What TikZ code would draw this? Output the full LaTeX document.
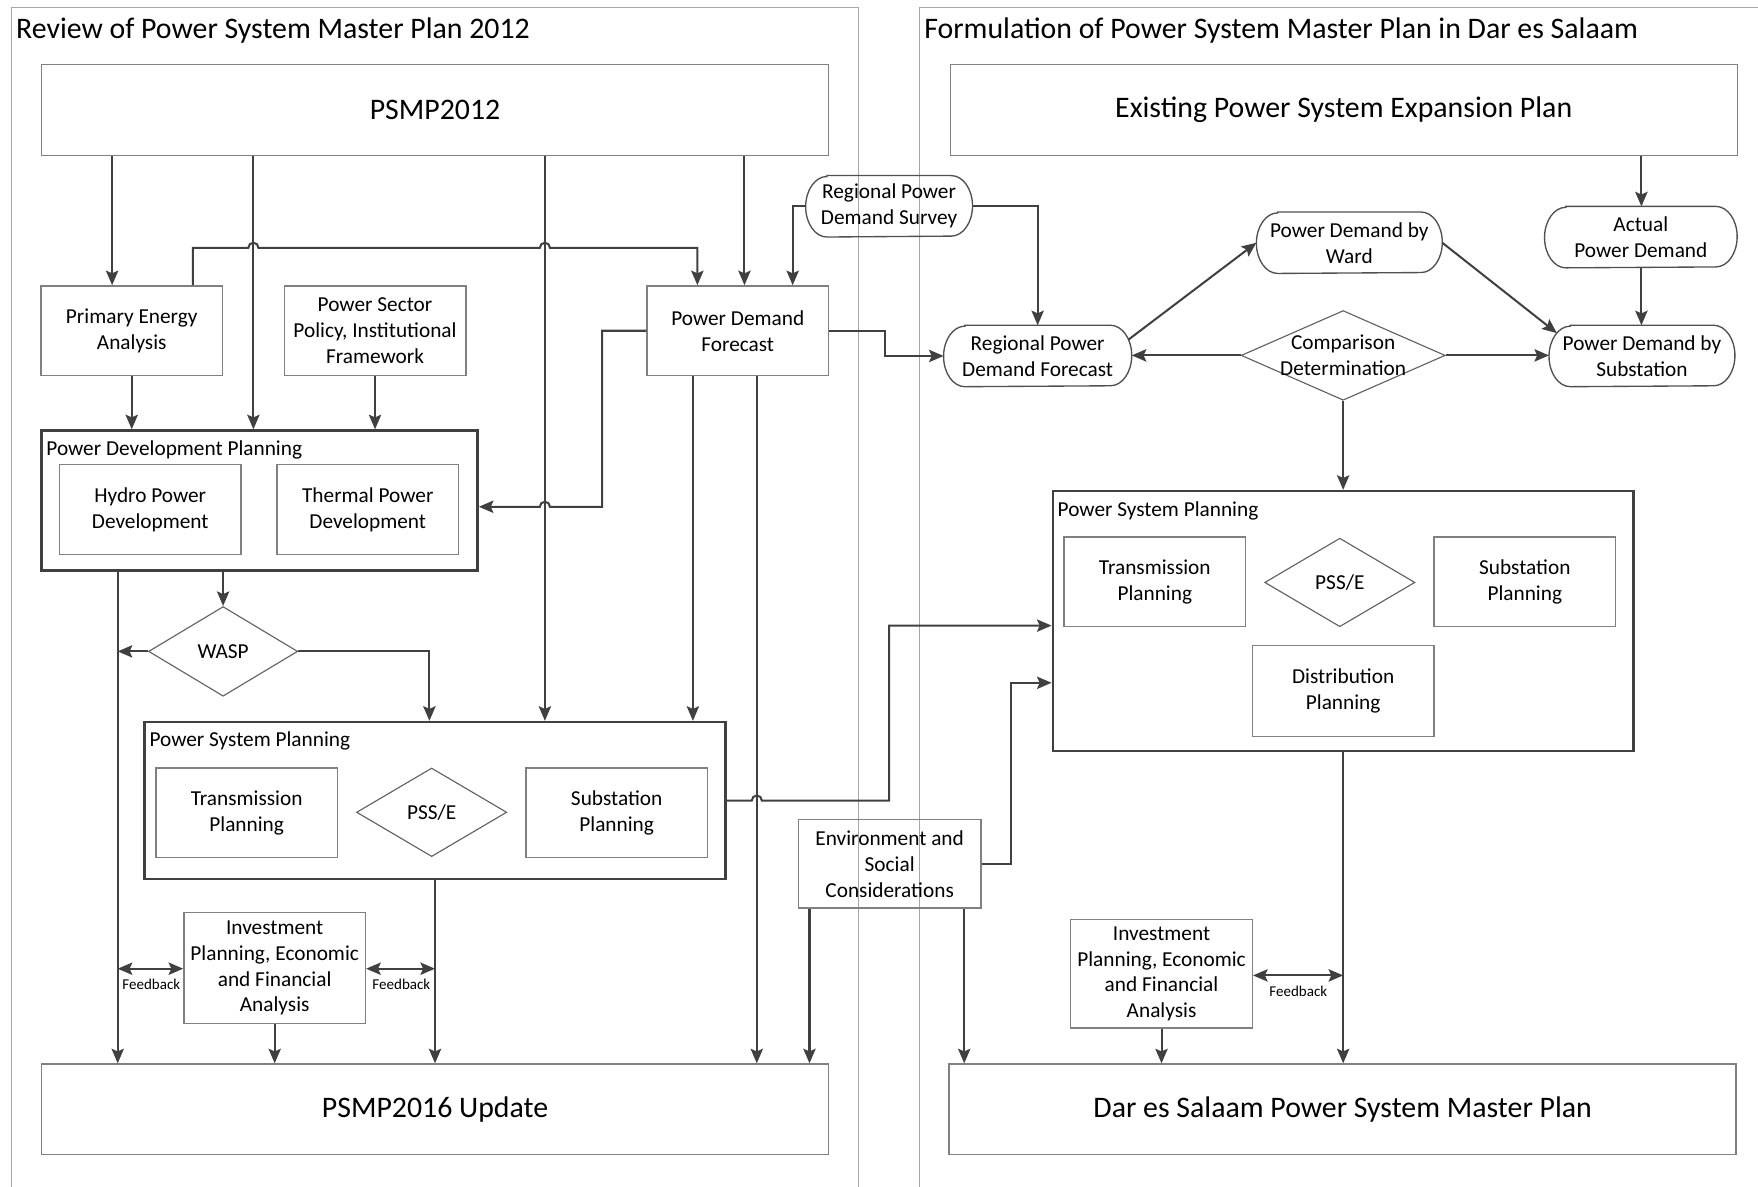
\documentclass[tikz,border=0pt]{standalone}
\usepackage{fontspec}
\setmainfont{Carlito}
\usetikzlibrary{shapes.geometric,arrows.meta,calc}

\definecolor{connc}{HTML}{404040}
\definecolor{boxc}{HTML}{808080}
\definecolor{framec}{HTML}{A6A6A6}
\definecolor{contc}{HTML}{404040}
\definecolor{diac}{HTML}{606060}
\definecolor{stadc}{HTML}{505050}

\newcommand\bigtxt{\fontsize{13.3}{16}\selectfont}
\newcommand\midtxt{\fontsize{9.5}{11.6}\selectfont}
\newcommand\invtxt{\fontsize{9.5}{11.4}\selectfont}
\newcommand\smalltxt{\fontsize{6.7}{8}\selectfont}

\begin{document}
\begin{tikzpicture}[x=0.5pt,y=-0.5pt,
  box/.style={draw=boxc, line width=0.6pt, rectangle, inner sep=0pt, align=center, font=\midtxt},
  sq/.style={minimum width=81pt, minimum height=40pt},
  big/.style={minimum width=351pt, minimum height=40.5pt, font=\bigtxt},
  cont/.style={draw=contc, line width=1.1pt, rectangle, inner sep=0pt},
  dia/.style={draw=diac, line width=0.5pt, diamond, inner sep=0pt},
  stad/.style={rectangle, inner sep=0pt, minimum height=27pt, align=center, font=\midtxt},
  stadln/.style={draw=stadc, line width=0.6pt},
  lbl/.style={inner sep=0pt, align=center, font=\midtxt},
  fb/.style={inner sep=0pt, font=\smalltxt},
  ttl/.style={inner sep=0pt, anchor=west, font=\bigtxt},
  frame/.style={draw=framec, line width=0.5pt},
  conn/.style={draw=connc, line width=0.9pt},
  arr/.style={conn, -{Stealth[length=6.5pt,width=5.5pt,inset=1.2pt]}},
  darr/.style={conn, {Stealth[length=6.5pt,width=5.5pt,inset=1.2pt]}-{Stealth[length=6.5pt,width=5.5pt,inset=1.2pt]}},
  jump/.style={radius=2.25pt}
]
\useasboundingbox (0,0) rectangle (1568,1058);

% ---------- panel frames and titles ----------
\draw[frame] (10,1070) -- (10,7) -- (766,7) -- (766,1070);
\draw[frame] (820,1070) -- (820,7) -- (1580,7);
\node[ttl] (ttlleft) at (14,27.5) {Review of Power System Master Plan 2012};
\node[ttl] (ttlright) at (824,27.5) {Formulation of Power System Master Plan in Dar es Salaam};

% ---------- left panel ----------
\node[box,big] (psmp12) at (388,98) {PSMP2012};
\node[box,sq] (pea) at (117.5,295) {Primary Energy\\Analysis};
\node[box,sq] (psp) at (334.5,295) {Power Sector\\Policy, Institutional\\Framework};
\node[box,sq] (pdf) at (658,295) {Power Demand\\Forecast};

\node[cont, minimum width=194.5pt, minimum height=62.5pt] (pdp) at (231.5,446.5) {};
\node[lbl, anchor=west] (pdplbl) at (41,401) {Power Development Planning};
\node[box,sq] (hydro) at (134,454.5) {Hydro Power\\Development};
\node[box,sq] (thermal) at (328,454.5) {Thermal Power\\Development};

\node[dia, minimum width=66.5pt, minimum height=40pt,
      label={[lbl]center:WASP}] (wasp) at (199,581) {};

\node[cont, minimum width=259pt, minimum height=70pt] (pspl) at (388,714) {};
\node[lbl, anchor=west] (pspllbl) at (133,661) {Power System Planning};
\node[box,sq] (trl) at (220,725) {Transmission\\Planning};
\node[dia, minimum width=67pt, minimum height=39.5pt,
      label={[lbl]center:PSS/E}] (pssl) at (385,724.5) {};
\node[box,sq] (subl) at (550,725) {Substation\\Planning};

\node[box, minimum width=81pt, minimum height=49.5pt, font=\invtxt] (invl) at (245,863.5)
  {Investment\\Planning, Economic\\and Financial\\Analysis};
\node[box,big] (psmp16) at (388,989.5) {PSMP2016 Update};

% ---------- nodes between the panels ----------
\node[stad, minimum width=74pt] (survey) at (793,184) {Regional Power\\Demand Survey};
\node[box, minimum width=81.5pt, minimum height=39.5pt] (env) at (793.5,770.5)
  {Environment and\\Social\\Considerations};

% ---------- right panel ----------
\node[box,big] (exist) at (1198.5,98) {Existing Power System Expansion Plan};
\node[stad, minimum width=85.5pt] (actual) at (1463.5,211.5) {Actual\\Power Demand};
\node[stad, minimum width=82.5pt] (ward) at (1203.5,216.5) {Power Demand by\\Ward};
\node[stad, minimum width=83.5pt] (rpdf) at (925.5,317.5) {Regional Power\\Demand Forecast};
\node[dia, minimum width=91pt, minimum height=40pt,
      label={[lbl]center:{Comparison\\Determination}}] (comp) at (1198,317) {};
\node[stad, minimum width=82.5pt] (pdsub) at (1464.5,317.5) {Power Demand by\\Substation};

\node[cont, minimum width=259pt, minimum height=116pt] (pspr) at (1198,554) {};
\node[lbl, anchor=west] (psprlbl) at (943,456) {Power System Planning};
\node[box,sq] (trr) at (1030,519) {Transmission\\Planning};
\node[dia, minimum width=67pt, minimum height=39.5pt,
      label={[lbl]center:PSS/E}] (pssr) at (1195,519.5) {};
\node[box,sq] (subr) at (1360,519) {Substation\\Planning};
\node[box,sq, minimum height=40.5pt] (dist) at (1198,616.5) {Distribution\\Planning};

\node[box, minimum width=81pt, minimum height=48.5pt, font=\invtxt] (invr) at (1036,868.5)
  {Investment\\Planning, Economic\\and Financial\\Analysis};
\node[box,big] (dsm) at (1197.5,989.5) {Dar es Salaam Power System Master Plan};

% terminator outlines (flattened elliptical ends)
\foreach \s in {survey,actual,ward,rpdf,pdsub}
  \draw[stadln] ([xshift=9.5pt]\s.north west) -- ([xshift=-9.5pt]\s.north east)
    arc[start angle=90,end angle=-90,x radius=9.5pt,y radius=13.5pt]
    -- ([xshift=9.5pt]\s.south west)
    arc[start angle=270,end angle=90,x radius=9.5pt,y radius=13.5pt] -- cycle;

% ---------- connectors, left panel ----------
\draw[arr] (100,0 |- psmp12.south) -- (100,0 |- pea.north);
\draw[arr] (226,0 |- psmp12.south) -- (226,0 |- pdp.north);
\draw[arr] (486,0 |- psmp12.south) -- (486,0 |- pspl.north);
\draw[arr] (664,0 |- psmp12.south) -- (664,0 |- pdf.north);

\draw[arr] (172,0 |- pea.north) -- (172,221) -- (221.5,221)
  arc[start angle=180,end angle=0,jump] -- (481.5,221)
  arc[start angle=180,end angle=0,jump] -- (622,221) -- (622,0 |- pdf.north);

\draw[arr] (survey.west) -| (707,0 |- pdf.north);
\draw[arr] (survey.east) -| (rpdf.north);

\draw[arr] (pea.south) -- (pea.south |- pdp.north);
\draw[arr] (psp.south) -- (psp.south |- pdp.north);

\draw[arr] (pdf.west) -- (537,0 |- pdf.west) -- (537,452) -- (490.5,452)
  arc[start angle=0,end angle=180,jump] -- (pdp.east |- 0,452);
\draw[arr] (pdf.east) -- (789,0 |- pdf.east) |- (rpdf.west);

\draw[arr] (618,0 |- pdf.south) -- (618,0 |- pspl.north);
\draw[arr] (675,0 |- pdf.south) -- (675,0 |- psmp16.north);

\draw[arr] (105,0 |- pdp.south) -- (105,0 |- psmp16.north);
\draw[arr] (wasp.north |- pdp.south) -- (wasp.north);
\draw[arr] (wasp.west) -- (105,0 |- wasp.west);
\draw[arr] (wasp.east) -| (383,0 |- pspl.north);

\draw[arr] (pspl.east) -- (670.5,0 |- pspl.east)
  arc[start angle=180,end angle=0,jump] -- (793,0 |- pspl.east) -- (793,558) -- (pspr.west |- 0,558);

\draw[arr] (pspl.south) -- (pspl.south |- psmp16.north);
\draw[arr] (invl.south) -- (invl.south |- psmp16.north);

\draw[darr] (105,864) -- (invl.west |- 0,864);
\draw[darr] (invl.east |- 0,864) -- (388,864);
\node[fb] (fbl1) at (135,878) {Feedback};
\node[fb] (fbl2) at (358,878) {Feedback};

\draw[arr] (722,0 |- env.south) -- (722,0 |- psmp16.north);
\draw[arr] (860,0 |- env.south) -- (860,0 |- dsm.north);
\draw[arr] (env.east) -- (902,0 |- env.east) -- (902,609) -- (pspr.west |- 0,609);

% ---------- connectors, right panel ----------
\draw[arr] (1464,0 |- exist.south) -- (1464,0 |- actual.north);
\draw[arr] (1464,0 |- actual.south) -- (1464,0 |- pdsub.north);

\coordinate (rpdfout) at ([xshift=-1.5pt,yshift=7.25pt]rpdf.east);
\coordinate (pdsubin) at ([xshift=3.5pt,yshift=-3.5pt]pdsub.north west);
\draw[arr] (rpdfout) -- (ward.west);
\draw[arr] (ward.east) -- (pdsubin);

\draw[arr] (comp.west) -- (comp.west -| rpdf.east);
\draw[arr] (comp.east) -- (comp.east -| pdsub.west);
\draw[arr] (comp.south) -- (comp.south |- pspr.north);

\draw[arr] (pspr.south) -- (pspr.south |- dsm.north);
\draw[darr] (invr.east |- 0,870) -- (1198,870);
\node[fb] (fbr) at (1158,884) {Feedback};
\draw[arr] (invr.south) -- (invr.south |- dsm.north);
\end{tikzpicture}
\end{document}
